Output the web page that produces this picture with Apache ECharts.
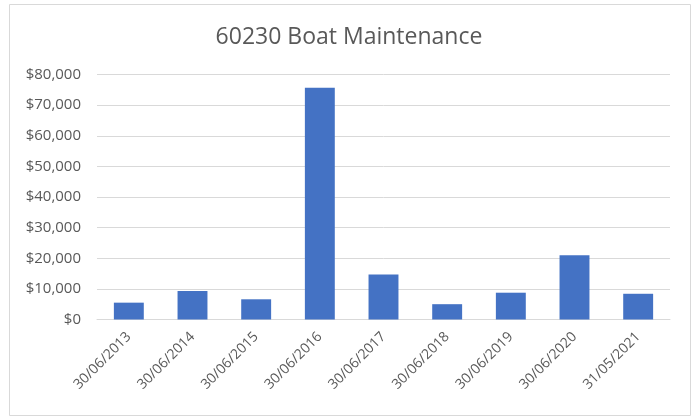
<!DOCTYPE html>
<html><head><meta charset="utf-8">
<script src="https://cdn.jsdelivr.net/npm/echarts@6/dist/echarts.min.js"></script>
<style>html,body{margin:0;padding:0;background:#fff}#c{width:698px;height:419px}</style>
</head><body><div id="c"></div>
<script>
const titleText = "60230 Boat Maintenance";
const categories = ["30/06/2013","30/06/2014","30/06/2015","30/06/2016","30/06/2017","30/06/2018","30/06/2019","30/06/2020","31/05/2021"];
const values = [5500, 9300, 6600, 75700, 14700, 5000, 8750, 21000, 8400];
const yTicks = [0, 10000, 20000, 30000, 40000, 50000, 60000, 70000, 80000];

const chart = echarts.init(document.getElementById('c'), null, {renderer: 'canvas'});
const font = "Open Sans, sans-serif";
chart.setOption({
  animation: false,
  backgroundColor: '#ffffff',
  graphic: [{
    type: 'rect', shape: {x: 9.5, y: 4.5, width: 681, height: 411},
    style: {fill: 'none', stroke: '#d9d9d9', lineWidth: 1}, silent: true
  }],
  title: {
    text: titleText, left: 'center', top: 21,
    textStyle: {fontFamily: font, fontSize: 23, fontWeight: 'normal', color: '#595959'}
  },
  grid: {left: 97, right: 28, top: 74.5, bottom: 99.5, containLabel: false},
  xAxis: {
    type: 'category', data: categories,
    axisLine: {lineStyle: {color: '#d9d9d9', width: 1}},
    axisTick: {show: false},
    axisLabel: {rotate: 45, interval: 0, color: '#595959', fontSize: 14, fontFamily: font, margin: 15}
  },
  yAxis: {
    type: 'value', min: yTicks[0], max: yTicks[yTicks.length-1], interval: 10000,
    axisLine: {show: false}, axisTick: {show: false},
    splitLine: {lineStyle: {color: '#d9d9d9', width: 1}},
    axisLabel: {color: '#595959', fontSize: 15, fontFamily: font, margin: 16,
      formatter: v => '$' + v.toLocaleString('en-US')}
  },
  series: [{
    type: 'bar', data: values, barWidth: '47%',
    itemStyle: {color: '#4472c4'}
  }]
});
</script></body></html>
